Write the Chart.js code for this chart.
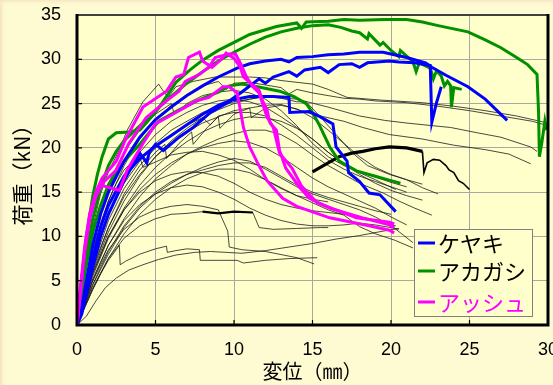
<!DOCTYPE html>
<html>
<head>
<meta charset="utf-8">
<script src="https://cdn.jsdelivr.net/npm/chart.js@4.4.1/dist/chart.umd.min.js"></script>
<style>
  html, body { margin: 0; padding: 0; background: #FEFAD2; }
  #wrap { width: 553px; height: 385px; }
</style>
</head>
<body>
<div id="wrap"><canvas id="myChart" width="553" height="385"></canvas></div>
<script>
// load (kN) vs displacement (mm)
const keyaki1 = [[0,0],[0.3,2],[0.6,5],[1,9],[1.5,12.5],[2,15],[3,18.5],[4,21.2],[5,23.2],[6,24.6],[7,25.9],[8,27],[9,28],[10.2,29],[11,29.5],[12,29.8],[13,30],[13.5,29.7],[14,30.2],[15,30.3],[16,30.5],[17,30.6],[18,30.8],[19.5,30.8],[21,30.2],[22.2,29.6],[22.6,29.1],[23.5,28.2],[24.9,26.9],[26,25.5],[27.4,23.1]];
const keyaki2 = [[0,0],[0.3,1.5],[0.6,4],[1,7.5],[1.5,11],[2,13.5],[3,16.8],[4,18.8],[5,20.2],[6,21.4],[7,22.6],[8,23.8],[9,24.8],[9.7,25.3],[10.5,26.3],[11.6,27.8],[12,27.3],[12.5,28],[13.5,28.6],[14,28.1],[14.5,28.8],[15.5,29.1],[16,28.5],[16.7,29.4],[17.5,29.5],[18,29.1],[18.5,29.6],[19.9,29.8],[20.5,29.7],[21.5,29.6],[22.5,29.3],[22.6,22.9],[22.9,25.1],[23.2,26.9]];
const keyaki3 = [[0,0],[0.3,1.2],[0.6,3.5],[1,6.5],[1.5,10],[2,12.5],[3,16.3],[3.6,18.2],[4,19.4],[4.45,18.3],[4.6,19.5],[5,20.4],[5.5,19.7],[6.5,21.2],[7.4,22.3],[8.5,24],[9.9,25.4],[11,25.8],[12.5,25.8],[13.5,25.7],[13.55,24],[14.8,24.1],[15.5,23.5],[16.3,22.7],[16.5,20.1],[17.2,18.5],[17.3,17.2],[18,16.2],[18.6,14.9],[19.3,14.7],[20.3,12.8]];

const akagashi1 = [[0,0],[0.3,5],[0.6,10],[1,14.5],[1.3,17],[1.6,19],[2,21],[2.5,21.7],[3.3,21.8],[4,22],[4.5,23],[5.2,24.5],[6.3,27.4],[7.2,28.8],[8,29.9],[9,31],[10.1,32],[11,32.8],[12.7,33.7],[14,34.1],[14.3,33.5],[14.6,34.2],[16,34.3],[17,34.5],[18,34.4],[19.6,34.5],[21,34.5],[22,34.2],[23,33.8],[24.9,33.1],[26,32.2],[27,31.3],[28,30.2],[28.7,29.4],[29.3,28.3],[29.4,24],[29.45,19],[29.6,20.5],[29.8,23],[29.9,22]];
const akagashi2 = [[0,0],[0.3,4],[0.6,8],[1,12],[1.5,15.5],[2,18],[2.5,19.6],[3,20.8],[4,22.5],[5,24.2],[6,25.8],[7,27.3],[8,28.6],[9,29.8],[10,30.8],[11,31.7],[12,32.5],[13,33.1],[14,33.5],[15,33.8],[16,33.9],[16.8,33.6],[17.5,33.2],[18,33],[18.5,32.3],[18.6,32.9],[19.3,31.6],[19.5,31.9],[20,31],[20.5,30.3],[20.6,31],[21.4,29.7],[21.6,28.6],[21.8,29.6],[22.5,29],[22.7,27.8],[22.9,28.7],[23.2,28.1],[23.4,27],[23.6,27.5],[23.8,27],[23.85,24.6],[24,26.8],[24.5,26.6]];
const akagashi3 = [[0,0],[0.3,3.5],[0.6,7],[1,10.5],[1.5,13.5],[2,15.8],[3,18.5],[4,20.4],[5.2,23],[6.5,24.3],[8,25.6],[9,26.3],[9.7,27],[10.5,27.2],[11.5,26.9],[12.9,26.4],[13.8,25.8],[14.6,25],[15,24],[15.4,22.7],[16.1,20.1],[16.7,18.5],[17.8,17.4],[19,16.8],[20,16.3],[20.6,16]];

const ash1 = [[0,0],[0.2,4],[0.5,9],[0.8,12.5],[1.2,15],[1.6,16.6],[2.5,18.5],[3.1,21],[4.2,24.6],[5.7,26.4],[6.3,28],[6.8,28.3],[7.1,30.2],[7.8,30.8],[8,29.8],[8.6,29.1],[9.2,30],[9.5,30.7],[10,30.1],[10.4,29.1],[10.6,28],[11,27.4],[11.6,26.5],[11.8,25.4],[12.1,24.3],[12.3,22.8],[12.7,22],[12.9,19.7],[13.3,17.7],[14.2,15.5],[14.8,14.3],[16.1,13.2],[18.2,12.1],[19.9,11.3],[20.2,11]];
const ash2 = [[0,0],[0.2,3.5],[0.5,8.5],[0.8,12],[1.2,14.5],[1.6,16],[2.5,17.5],[3.3,20.5],[4.4,23.4],[5.7,25.3],[6.5,26.4],[6.9,27.5],[7.8,28.3],[8.4,29.1],[8.8,30.2],[9.7,30.6],[10.1,30.6],[10.4,29.6],[10.8,28],[11.2,26.9],[11.6,26.2],[12.1,23.5],[12.5,22.3],[12.9,19.4],[13.7,17.7],[14.3,15.7],[14.6,15.1],[15.3,13.8],[17.8,12.1],[19.9,11.6],[20.2,11.4]];
const ash3 = [[0,0],[0.2,3.5],[0.5,8.5],[0.8,12],[1.2,14.8],[1.5,15.8],[2.1,15.5],[2.7,15.2],[3.2,17.5],[4.2,20.5],[5,22.7],[6.1,23.8],[6.9,24.6],[7.6,25.3],[8.4,25.7],[9.3,26.9],[9.7,26.9],[10.2,26.2],[10.4,24.3],[10.6,22.3],[11,20.1],[11.5,18.3],[12.1,16.3],[13.1,14.3],[14,13.4],[16.1,12.1],[18.6,11.2],[19.9,10.7],[20.2,10.4]];

// unlabelled specimens (thin black)
const other1 = [[0,0],[0.5,6],[1,11],[1.5,14.8],[2,17.3],[2.7,19.8],[3.2,22],[4.2,25.2],[5.2,27.2],[5.5,26.4],[5.8,25.7],[6.3,26.9],[7.4,27.5],[8.8,28],[10.1,28],[11,28],[12,27.9],[13,27.6],[15,27.2],[16,26.6],[17.2,25.7],[19.3,25.4],[22,25.1],[24,24.7],[26,24.2],[28,23.6],[30,22.8]];
const other2 = [[0,0],[0.5,4.5],[1,8.5],[2,14],[3,18],[4,21],[5,23.2],[6,24.8],[7,26],[8,27],[9,27.5],[9.5,26.6],[10,27.3],[11,27.4],[12,27.1],[13,26.8],[13.5,26.1],[14,26.6],[15,26.2],[16,25.9],[17,25.6],[18,25.5],[19,25.3],[21,25.1],[23,24.7],[25,24.2],[27,23.6],[29,23],[30,22.5]];
const other3 = [[0,0],[0.5,4],[1,7.5],[2,12.5],[3,16],[4,18.5],[5,20.5],[6,22],[8,24],[10,25.2],[12,25.8],[14,25.5],[16,24.6],[18,23.6],[19.6,23.1],[21,22.8],[23.8,22.3],[25.5,21.7],[27,21.2],[28.9,20.1],[29.3,19.6]];
const other4 = [[0,0],[0.5,3.5],[1,6.5],[2,11],[3,14.5],[4,17],[5,19],[6,20.5],[7,21.8],[8,22.8],[10,24.2],[12,24.8],[13,24.9],[15,23.8],[17,23],[18.2,22.3],[19.9,21.5],[22,21],[24,20.3],[26,19.8],[27.5,19.3],[28.9,18.2]];
const other5 = [[0,0],[0.5,5.5],[1,10],[1.5,13.5],[2,16],[3,19.5],[4,22],[5,23.8],[6,25],[6.2,23.8],[7,25],[8,25.9],[9,26.3],[10,26.5],[11,26.2],[12,25.5],[13,24.2],[14,22.5],[15,20.5],[16,19],[17,18],[18,17.3],[19,16.7],[20,16.1],[21,15.6]];
const other6 = [[0,0],[0.5,3],[1,6],[2,10.5],[3,14],[4,16.8],[5,19],[6,20.8],[7,22.2],[8,23.4],[9,24.3],[10,25],[11,25.5],[12,25.8],[13,25.6],[14,25.2],[14.6,25.2],[15.5,23.5],[16.5,21.5],[17.5,19.5],[18.5,18],[19.9,17],[21,16.4],[22,15.5],[23,14.8]];
const other7 = [[0,0],[0.5,3],[1,5.8],[2,10],[3,13.2],[4,15.8],[5,17.8],[6,19.4],[7,20.7],[8,21.8],[9,22.6],[10,23.2],[11,23.5],[12,23.4],[13,23],[14,22.2],[15,21],[16,19.5],[17,18.2],[18,17.2],[19,16.4],[20.3,15.3]];
const other8 = [[0,0],[0.5,2.5],[1,5],[2,9],[3,12],[4,14.5],[5,16.5],[6,18],[7,19.3],[8,20.2],[9,21],[10,21.6],[11,22],[12,22],[13,21.5],[14,20.5],[15,19.2],[16,18],[17,17],[18,16],[19.5,14.9],[20.5,14],[21.5,13.2],[22.6,12.4]];
const other9 = [[0,0],[0.5,2.8],[1,5.5],[2,9.8],[3,13],[4,15.3],[5,17],[6,18.3],[7,19.3],[8,20],[9,20.5],[10,20.8],[11,20.6],[12,20],[13,19],[14,17.8],[15,16.6],[16,15.6],[17,14.8],[18,14],[19,13.2],[20,12.2],[21,11.3]];
const other10 = [[0,0],[0.5,2.2],[1,4.5],[2,8],[3,11],[4,13.2],[5,14.8],[6,16],[7,17],[8,17.8],[9,18.4],[10,18.8],[11,18.5],[12,17.6],[13,16.6],[14,15.6],[15,14.8],[16,14.2],[17,13.6],[18,13],[19,12.2],[20.1,11.1],[21.4,9.3]];
const other11 = [[0,0],[0.5,2],[1,4],[2,7.5],[3,10.3],[4,12.5],[5,14.2],[6,15.5],[7,16.5],[8,17.2],[9,17.6],[10,17.6],[11,17.2],[12,16.4],[13,15.5],[14,14.6],[15,13.8],[16,13],[17,12.4],[18,11.1],[19,10.3],[20.2,9.6],[21.4,8.7]];
const other12 = [[0,0],[0.5,3.2],[1,6.2],[2,11],[3,14.8],[4,17.5],[5,19.5],[5.6,20.4],[5.7,18.8],[6.5,20.5],[7.3,21.8],[7.4,20.4],[8.3,22.3],[9,23.5],[9.1,22.2],[10,23.8],[11,24.5],[11.1,23.4],[12,24.5],[13,24.8],[14,24.4],[15,23.4],[16,22],[17,20.5],[18,19],[19,17.8],[20,17],[21,16.4],[22,15.9]];
const other13 = [[0,0],[0.5,3.8],[1,7.2],[2,12.5],[3,16.5],[4,19.5],[5,21.5],[6,23],[7,24],[8,24.8],[9,25.3],[10,25.5],[11,25.2],[12,24.6],[13,23.5],[14,22.3],[15,21],[16,19.5],[17,18.2],[18,17],[19,16],[20,15.2],[21,14.6],[22,14.1]];
const other14 = [[0,0],[0.5,2.2],[1,4.2],[2,7.5],[3,9.8],[4,11.2],[5,12],[6,12.5],[7,12.6],[8,12.8],[9,12.6],[10,12.8],[11.2,12.7],[11.6,11],[12.5,10.8],[14,10.9],[15.5,11],[16,11]];
const other15 = [[0,0],[0.5,2],[1,4],[1.5,5.8],[2,7.3],[2.5,8.5],[2.7,9],[2.75,6.8],[3.1,7.2],[4,8],[5,8.6],[5.7,8.9],[5.75,8.2],[6.3,8.4],[7,8.6],[7.8,8.5],[7.85,7.3],[9,7.3],[10.2,7.3],[10.6,7],[12,7.3],[13.5,7.5],[15.3,7.6]];
const other16 = [[0,0],[0.6,1],[1.2,2.7],[1.8,4.2],[2.5,5.3],[3.3,6.2],[4.2,6.8],[5.2,7.4],[6.3,7.9],[7.5,8.2],[8.5,8.3],[9.5,8.2],[10.5,8.1],[12,8.4],[13.5,8.8],[15,9.2],[16.5,9.7],[18,10.1],[19.5,10.6],[20.5,10.9]];
const other17 = [[0,0],[0.5,2.5],[1,5],[2,8.5],[3,10.8],[4,12.2],[5,13],[6,13.4],[7,13.6],[8,13.4],[9,13],[9.6,10.6],[9.7,8.8],[10.5,8.5],[12,8.3],[14,7.6],[15.1,6.9]];
const other18 = [[0,0],[0.5,2.6],[1,5.2],[2,9],[3,11.8],[4,13.6],[5,14.8],[6,15.5],[7,15.8],[8,15.6],[9,15],[10,14.2],[11,13.2],[12,12.4],[13,11.8],[14,11.4],[15,11.2],[16,11.2],[17,11.3],[18,11.5],[19,11.3],[20,11],[20.5,10.8]];
const other19 = [[0,0],[0.5,3],[1,5.8],[2,10],[3,13],[4,15],[5,16.3],[6,17],[7,17.3],[8,17.2],[9,16.8],[10,16],[11,15],[12,14.2],[13,13.6],[14,13.2],[15,12.9],[16,12.7],[17,12.5],[18,12.2],[19,11.8],[20.3,11.2]];
const other20 = [[0,0],[0.5,2.4],[1,4.6],[2,8.3],[3,11.2],[4,13.4],[5,15],[6,16.2],[7,17],[8,17.5],[9,18],[10,18.3],[11,18.3],[12,17.8],[13,16.8],[14,15.8],[15,15],[16,14.4],[17,13.9],[18,13.4],[19,12.9],[20,12.5]];
const other21 = [[0,0],[0.5,4.2],[1,8],[1.5,11.5],[2,14],[2.5,16],[3,17.5],[3.5,18.4],[4,19],[4.2,17.8],[5,18.4],[6,19.2],[7,19.5],[8,19.6],[9,19.2],[10,18.6],[11,17.6],[12,16.4],[13,15.4],[14,14.6],[15,14.2],[16,13.9]];
const other22 = [[0,0],[0.5,3.4],[1,6.6],[2,11.8],[3,15.4],[4,18],[5,20],[6,21.5],[7,22.6],[8,23.4],[8.5,22.6],[9,23.6],[10,24],[11,24],[12,23.6],[13,22.6],[14,21.4],[15,20],[16,18.6],[17,17.6],[18,16.8],[19,16.2],[20,15.6],[21,15]];
const thickBlack = [[15,17.3],[16,18.3],[16.7,19],[17.5,19.4],[18.2,19.6],[19,19.9],[19.9,20.1],[21,20],[22,19.6]];
const thickTail = [[22,19.6],[22.1,17.2],[22.3,18.3],[22.7,18.7],[23.1,18.6],[23.5,18],[23.7,17.5],[24,17.2],[24.3,16.3],[24.6,16],[25,15.3]];
const thickShort = [[8,12.8],[9,12.6],[10,12.8],[11.2,12.7]];

const xTicks = { min: 0, max: 30, step: 5 };
const yTicks = { min: 0, max: 35, step: 5 };
const legendNames = ['ケヤキ', 'アカガシ', 'アッシュ'];
const legendColors = ['#0000FF', '#009000', '#FF00FF'];
const legendTextColors = ['#000000', '#000000', '#FF00FF'];

const toXY = arr => arr.map(p => ({ x: p[0], y: p[1] }));
const line = (arr, color, width) => ({
  data: toXY(arr), borderColor: color, borderWidth: width,
  pointRadius: 0, fill: false, tension: 0
});

const blacks = [other1, other2, other3, other4, other5, other6, other7, other8, other9, other10, other11,
  other12, other13, other14, other15, other16, other17, other18, other19, other20, other21, other22];

// chart.js paints the first dataset last, so coloured ones go first
const datasets = [
  line(ash1, '#FF00FF', 3), line(ash2, '#FF00FF', 3), line(ash3, '#FF00FF', 3),
  line(keyaki1, '#0000FF', 3), line(keyaki2, '#0000FF', 3), line(keyaki3, '#0000FF', 3),
  line(akagashi1, '#009000', 3), line(akagashi2, '#009000', 3), line(akagashi3, '#009000', 3),
  line(thickBlack, '#000', 3.2), line(thickTail, '#000', 1.6), line(thickShort, '#000', 2.2)
].concat(blacks.map(b => line(b, '#1a1a1a', 0.8)));

const bgPlugin = {
  id: 'bg',
  beforeDraw(chart) {
    const { ctx, chartArea: a, width, height } = chart;
    ctx.save();
    ctx.fillStyle = '#FEFAD2';
    ctx.fillRect(0, 0, width, height);
    let g = ctx.createLinearGradient(0, 0, 6, 0);
    g.addColorStop(0, '#F2E0BC'); g.addColorStop(1, 'rgba(254,250,210,0)');
    ctx.fillStyle = g; ctx.fillRect(0, 0, 6, height);
    g = ctx.createLinearGradient(0, 0, 0, 6);
    g.addColorStop(0, '#F5E6C2'); g.addColorStop(1, 'rgba(254,250,210,0)');
    ctx.fillStyle = g; ctx.fillRect(0, 0, width, 6);
    ctx.fillStyle = '#FFFFCC';
    ctx.fillRect(a.left, a.top, a.right - a.left, a.bottom - a.top);
    ctx.restore();
  },
  afterDraw(chart) {
    const { ctx, chartArea: a, scales } = chart;
    ctx.save();
    // frame
    ctx.strokeStyle = '#404040'; ctx.lineWidth = 2;
    ctx.beginPath(); ctx.moveTo(a.left, a.top); ctx.lineTo(a.right, a.top); ctx.stroke();
    ctx.strokeStyle = '#000'; ctx.lineWidth = 3;
    ctx.beginPath();
    ctx.moveTo(a.left, a.top - 1); ctx.lineTo(a.left, a.bottom);
    ctx.lineTo(a.right, a.bottom); ctx.lineTo(a.right, a.top - 1);
    ctx.stroke();
    // inside ticks
    ctx.lineWidth = 1.2;
    ctx.beginPath();
    for (let v = xTicks.min + xTicks.step; v < xTicks.max; v += xTicks.step) {
      const x = scales.x.getPixelForValue(v);
      ctx.moveTo(x, a.bottom); ctx.lineTo(x, a.bottom - 5);
    }
    for (let v = yTicks.min + yTicks.step; v < yTicks.max; v += yTicks.step) {
      const y = scales.y.getPixelForValue(v);
      ctx.moveTo(a.left, y); ctx.lineTo(a.left + 5, y);
    }
    ctx.stroke();
    // legend box
    const bx = 414.5, by = 229.5, bw = 118, bh = 87;
    ctx.fillStyle = '#FFFFCC'; ctx.fillRect(bx, by, bw, bh);
    ctx.strokeStyle = '#808080'; ctx.lineWidth = 1; ctx.strokeRect(bx, by, bw, bh);
    const rows = [243, 271, 302];
    ctx.font = '22px "Noto Sans CJK JP"';
    ctx.textBaseline = 'middle';
    legendNames.forEach((n, i) => {
      ctx.strokeStyle = legendColors[i]; ctx.lineWidth = 3;
      ctx.beginPath(); ctx.moveTo(418, rows[i]); ctx.lineTo(435, rows[i]); ctx.stroke();
      ctx.fillStyle = legendTextColors[i];
      ctx.fillText(n, 438, rows[i] + 1);
    });
    ctx.restore();
  }
};

new Chart(document.getElementById('myChart').getContext('2d'), {
  type: 'line',
  data: { datasets: datasets },
  options: {
    responsive: false,
    animation: false,
    events: [],
    layout: { padding: { left: 0, right: 5, top: 15, bottom: 0 } },
    plugins: { legend: { display: false }, tooltip: { enabled: false } },
    scales: {
      x: {
        type: 'linear', min: xTicks.min, max: xTicks.max,
        ticks: { stepSize: xTicks.step, color: '#000', padding: 14, maxRotation: 0,
          font: { family: '"Liberation Sans", Arial', size: 18 } },
        grid: { color: '#A8A8A0', lineWidth: 1, drawTicks: false },
        border: { display: false },
        title: { display: true, text: '変位（㎜）', color: '#000',
          font: { family: '"Noto Sans CJK JP"', size: 20 }, padding: { top: 0, bottom: 2 } },
        afterFit(s) { s.height = 60; s.paddingLeft = 0; s.paddingRight = 0; }
      },
      y: {
        type: 'linear', min: yTicks.min, max: yTicks.max,
        ticks: { stepSize: yTicks.step, color: '#000', padding: 16,
          font: { family: '"Liberation Sans", Arial', size: 18 } },
        grid: { color: '#A8A8A0', lineWidth: 1, drawTicks: false },
        border: { display: false },
        title: { display: true, text: '荷重（kN）', color: '#000',
          font: { family: '"Noto Sans CJK JP"', size: 21 }, padding: { top: 9, bottom: 0 } },
        afterFit(s) { s.width = 77; s.paddingTop = 0; s.paddingBottom = 0; }
      }
    }
  },
  plugins: [bgPlugin]
});
</script>
</body>
</html>
